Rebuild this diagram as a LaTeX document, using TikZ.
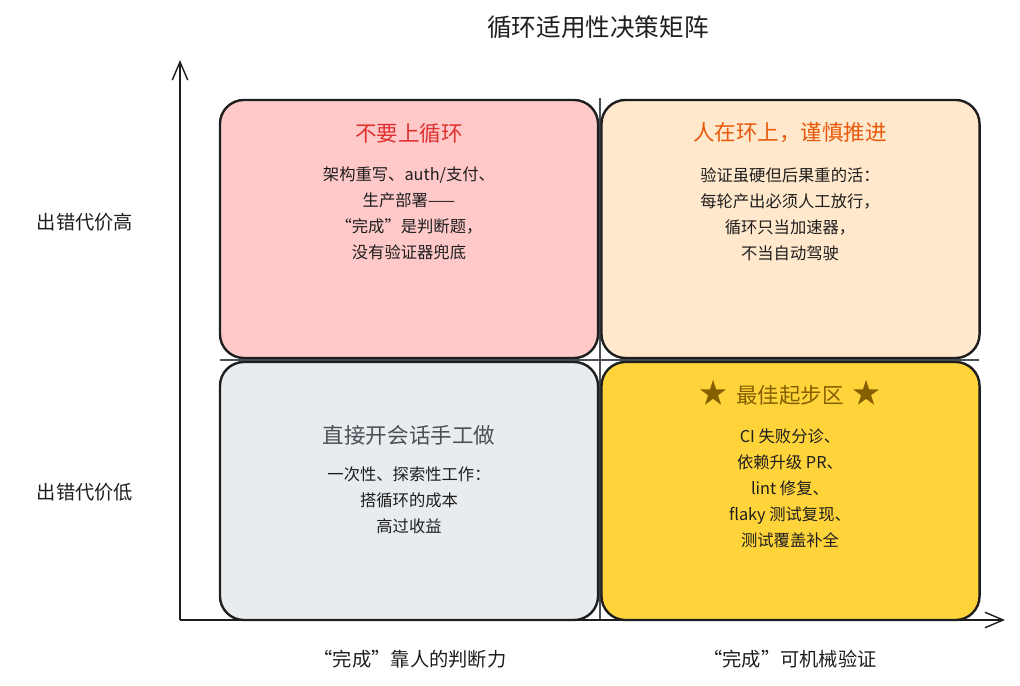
\documentclass[tikz,border=0pt]{standalone}
\usepackage{fontspec}
\setmainfont{Noto Sans CJK SC}
\usetikzlibrary{
  arrows.meta,  % 开口箭头
  positioning   % 节点相对定位
}

\definecolor{ink}{HTML}{1E1E1E}
\definecolor{slate}{HTML}{495057}
\definecolor{redfill}{HTML}{FFC9C9}
\definecolor{redtext}{HTML}{E03131}
\definecolor{orangefill}{HTML}{FFE8CC}
\definecolor{orangetext}{HTML}{E8590C}
\definecolor{grayfill}{HTML}{E9ECEF}
\definecolor{yellowfill}{HTML}{FFD43B}
\definecolor{browntext}{HTML}{846000}

\newcommand{\bigstar}{{\fontsize{20}{20}\selectfont ★}}

\begin{document}
\begin{tikzpicture}[x=0.025cm, y=-0.025cm,
  >={Straight Barb[length=13pt, width=11pt]},
  quad/.style={draw=ink, line width=1.7pt, rounded corners=0.6cm,
    minimum width=9.45cm, minimum height=6.45cm, inner sep=0pt},
  quadtitle/.style={font=\fontsize{15.3}{18}\selectfont},
  quadtext/.style={align=center, text=ink, font=\fontsize{11.6}{18.5}\selectfont},
  axislabel/.style={text=ink, font=\fontsize{13.7}{16}\selectfont},
  axis/.style={line width=1pt, draw=ink},
  divider/.style={line width=0.8pt, draw=slate}]

  \useasboundingbox (0,0) rectangle (1020,685);

  % =========== 坐标轴与分隔线 ===========
  \coordinate (O)    at (180,620);
  \coordinate (ytip) at (180,60);
  \coordinate (xtip) at (1005,620);
  \coordinate (vtop) at (600,98);
  \coordinate (vbot) at (600,620);
  \coordinate (hlft) at (220,360);
  \coordinate (hrgt) at (979,360);

  \draw[divider] (vtop) -- (vbot);
  \draw[divider] (hlft) -- (hrgt);

  % =========== 四个象限 ===========
  \node[quad, fill=redfill]    (risky)  at (409,229)   {};
  \node[quad, fill=orangefill] (gated)  at (790.5,229) {};
  \node[quad, fill=grayfill]   (manual) at (409,491)   {};
  \node[quad, fill=yellowfill] (sweet)  at (790.5,491) {};

  \draw[axis, ->] (O) -- (ytip);
  \draw[axis, ->] (O) -- (xtip);

  % 左上：不要上循环
  \node[quadtitle, text=redtext] (riskyT) at (409,133) {不要上循环};
  \node[quadtext] (riskyB) at (409,213)
    {架构重写、auth/支付、\\生产部署——\\“完成”是判断题，\\没有验证器兜底};

  % 右上：人在环上
  \node[quadtitle, text=orangetext] (gatedT) at (790,133) {人在环上，谨慎推进};
  \node[quadtext] (gatedB) at (790,214.5)
    {验证虽硬但后果重的活：\\每轮产出必须人工放行，\\循环只当加速器，\\不当自动驾驶};

  % 左下：手工做
  \node[quadtitle, text=slate] (manualT) at (409,435) {直接开会话手工做};
  \node[quadtext] (manualB) at (409,500)
    {一次性、探索性工作：\\搭循环的成本\\高过收益};

  % 右下：最佳起步区
  \node[quadtitle, text=browntext] (sweetT) at (790,393) {\bigstar\ \,最佳起步区\ \,\bigstar};
  \node[quadtext] (sweetB) at (790,488.5)
    {CI 失败分诊、\\依赖升级 PR、\\lint 修复、\\flaky 测试复现、\\测试覆盖补全};

  % =========== 标题与轴标签 ===========
  \node[text=ink, font=\fontsize{17.5}{20}\selectfont] (title) at (598,27) {循环适用性决策矩阵};
  \node[axislabel] (costHi) at (85,222) {出错代价高};
  \node[axislabel] (costLo) at (85,492) {出错代价低};
  \node[axislabel] (judge)  at (410,659) {“完成”靠人的判断力};
  \node[axislabel] (verify) at (790,659) {“完成”可机械验证};

\end{tikzpicture}
\end{document}
